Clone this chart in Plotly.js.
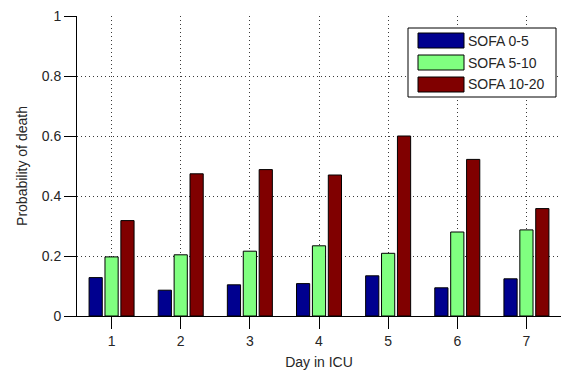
<!DOCTYPE html>
<html>
<head>
<meta charset="utf-8">
<script src="https://cdn.plot.ly/plotly-3.0.1.min.js"></script>
<style>html,body{margin:0;padding:0;background:#fff;}#chart{width:562px;height:370px;}</style>
</head>
<body>
<div id="chart"></div>
<script>
// ---- data ----
const days = [1, 2, 3, 4, 5, 6, 7];
const seriesNames = ["SOFA 0-5", "SOFA 5-10", "SOFA 10-20"];
const sofa0to5 = [0.128, 0.086, 0.104, 0.108, 0.134, 0.094, 0.124];
const sofa5to10 = [0.197, 0.204, 0.216, 0.234, 0.209, 0.280, 0.287];
const sofa10to20 = [0.318, 0.474, 0.488, 0.470, 0.600, 0.522, 0.358];
const yTicks = [0, 0.2, 0.4, 0.6, 0.8, 1];
const yTickLabels = ["0", "0.2", "0.4", "0.6", "0.8", "1"];
const xLabel = "Day in ICU";
const yLabel = "Probability of death";

// ---- styling ----
const colors = ["#00008f", "#80ff80", "#800000"];
const seriesValues = [sofa0to5, sofa5to10, sofa10to20];
const font = "Liberation Sans, Arial, sans-serif";
const textColor = "#262626";

const traces = seriesValues.map((vals, i) => ({
  type: "bar",
  x: days,
  y: vals,
  name: seriesNames[i],
  marker: { color: colors[i], line: { color: "#000", width: 1 } },
  showlegend: false,
  hoverinfo: "x+y+name"
}));

const W = 562, H = 370;
const mL = 77, mR = 1, mT = 16, mB = 54;
const pw = W - mL - mR, ph = H - mT - mB;
const fx = v => (v - mL) / pw;
const fy = v => 1 - (v - mT) / ph;

// custom legend (large MATLAB-style swatches)
const legBox = { x0: 408, x1: 556, y0: 28, y1: 97 };
const rowCenters = [40.5, 62.5, 84.5];
const shapes = [{
  type: "rect", xref: "paper", yref: "paper",
  x0: fx(legBox.x0), x1: fx(legBox.x1), y0: fy(legBox.y1), y1: fy(legBox.y0),
  fillcolor: "#fff", line: { color: "#000", width: 1 }, layer: "above"
}];
const annotations = [];
seriesNames.forEach((nm, i) => {
  const c = rowCenters[i];
  shapes.push({
    type: "rect", xref: "paper", yref: "paper",
    x0: fx(418), x1: fx(464), y0: fy(c + 7.5), y1: fy(c - 7.5),
    fillcolor: colors[i], line: { color: "#000", width: 1 }, layer: "above"
  });
  annotations.push({
    xref: "paper", yref: "paper", x: fx(466), y: fy(c),
    xanchor: "left", yanchor: "middle", showarrow: false,
    text: nm, font: { family: font, size: 14, color: textColor }
  });
});

const gridStyle = { showgrid: true, gridcolor: "#3a3a3a", griddash: "1px,3px", gridwidth: 1 };

const layout = {
  width: W, height: H,
  margin: { l: mL, r: mR, t: mT, b: mB, pad: 0 },
  paper_bgcolor: "#fff", plot_bgcolor: "#fff",
  barmode: "group", bargap: 0.31, bargroupgap: 0.17,
  font: { family: font, size: 14, color: textColor },
  xaxis: Object.assign({
    range: [0.5, 7.5], tickmode: "array", tickvals: days, ticktext: days.map(String),
    showline: true, linecolor: "#000", linewidth: 1,
    ticks: "outside", ticklen: 12, tickcolor: "#000", tickwidth: 1,
    zeroline: false,
    title: { text: xLabel, font: { family: font, size: 14, color: textColor }, standoff: 9 },
    tickfont: { family: font, size: 14, color: textColor }
  }, gridStyle),
  yaxis: Object.assign({
    range: [0, 1], tickmode: "array", tickvals: yTicks, ticktext: yTickLabels,
    showline: true, linecolor: "#000", linewidth: 1,
    ticks: "outside", ticklen: 12, tickcolor: "#000", tickwidth: 1,
    zeroline: false,
    title: { text: yLabel, font: { family: font, size: 14, color: textColor }, standoff: 10 },
    tickfont: { family: font, size: 14, color: textColor }
  }, gridStyle),
  shapes: shapes,
  annotations: annotations
};

Plotly.newPlot("chart", traces, layout, { displayModeBar: false, staticPlot: true });
</script>
</body>
</html>
